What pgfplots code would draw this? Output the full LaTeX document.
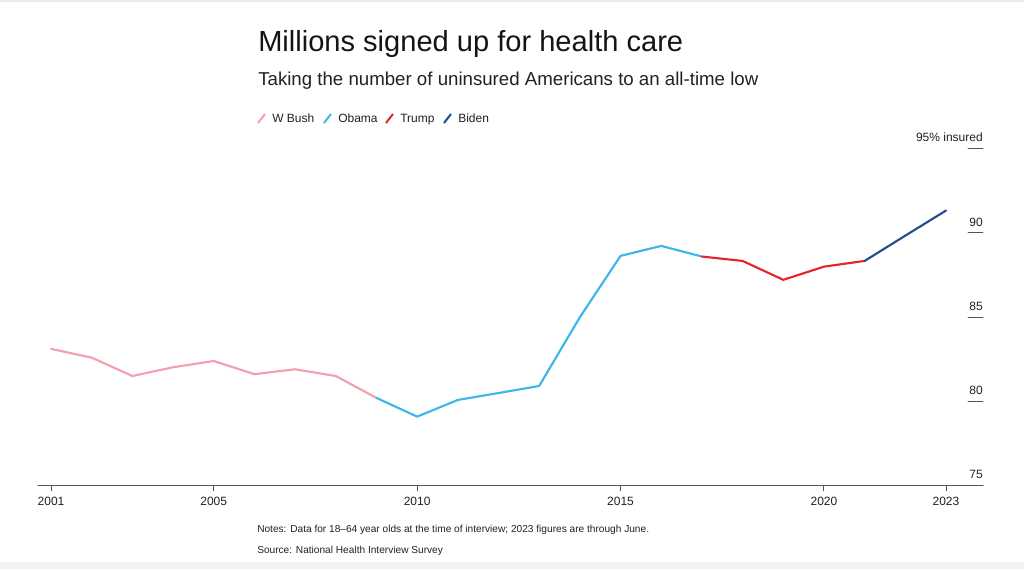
\documentclass[border=0pt]{standalone}
\usepackage{fontspec}
\setmainfont{Liberation Sans}
\usepackage{pgfplots}
\pgfplotsset{compat=1.18}
\definecolor{bush}{HTML}{F2A0AE}
\definecolor{obama}{HTML}{3DB7E9}
\definecolor{trump}{HTML}{E3262E}
\definecolor{biden}{HTML}{1F4E8A}
\definecolor{axgray}{HTML}{555555}
\definecolor{txt}{HTML}{222222}
\begin{document}
\begin{tikzpicture}
\fill[white] (0,0) rectangle (768pt,-426.75pt);
\fill[black!5] (0,-421.5pt) rectangle (768pt,-426.75pt);
\fill[black!8] (0,0) rectangle (768pt,-1.2pt);
\begin{scope}[x=0.75pt,y=-0.75pt]
\node[anchor=base west, inner sep=0pt, text=black!92, font=\fontsize{21.8pt}{24pt}\selectfont] at (258,51) {Millions signed up for health care};
\node[anchor=base west, inner sep=0pt, text=txt, font=\fontsize{14pt}{16pt}\selectfont] at (258,85) {Taking the number of uninsured Americans to an all-time low};
% legend
\draw[bush, line width=1.5pt] (258,123) -- (265,114);
\node[anchor=base west, inner sep=0pt, text=txt, font=\fontsize{9pt}{11pt}\selectfont] at (272,122) {W Bush};
\draw[obama, line width=1.5pt] (324,123) -- (331,114);
\node[anchor=base west, inner sep=0pt, text=txt, font=\fontsize{9pt}{11pt}\selectfont] at (338,122) {Obama};
\draw[trump, line width=1.5pt] (386,123) -- (393,114);
\node[anchor=base west, inner sep=0pt, text=txt, font=\fontsize{9pt}{11pt}\selectfont] at (400,122) {Trump};
\draw[biden, line width=1.5pt] (444,123) -- (451,114);
\node[anchor=base west, inner sep=0pt, text=txt, font=\fontsize{9pt}{11pt}\selectfont] at (458,122) {Biden};
% notes
\node[anchor=base west, inner sep=0pt, text=txt, font=\fontsize{7.6pt}{9pt}\selectfont] at (257,532) {Notes: Data for 18--64 year olds at the time of interview; 2023 figures are through June.};
\node[anchor=base west, inner sep=0pt, text=txt, font=\fontsize{7.6pt}{9pt}\selectfont] at (257,553) {Source: National Health Interview Survey};
\end{scope}
\begin{axis}[
  at={(28.5pt,-364.275pt)}, anchor=south west,
  scale only axis, width=708.75pt, height=252.75pt,
  xmin=2000.68, xmax=2023.91, ymin=75, ymax=95,
  clip=false,
  axis x line*=bottom, axis y line*=right,
  x axis line style={draw=axgray, line width=0.9pt, -},
  y axis line style={draw=none, -},
  xtick={2001,2005,2010,2015,2020,2023},
  xticklabels={2001,2005,2010,2015,2020,2023},
  ytick={75,80,85,90,95},
  yticklabels={75,80,85,90,95\% insured},
  minor ytick={80,85,90,95},
  major tick length=3.75pt,
  minor tick length=11.25pt,
  ytick align=inside,
  xtick align=outside,
  major x tick style={draw=axgray, line width=0.7pt},
  major y tick style={draw=none},
  minor y tick style={draw=axgray, line width=0.7pt},
  ticklabel style={font=\fontsize{9pt}{11pt}\selectfont, text=txt},
  xticklabel style={yshift=-1.2pt},
  yticklabel style={anchor=south east, inner sep=0pt, yshift=4.8pt},
  line join=round, line cap=round,
]
\addplot[bush, line width=1.6pt] coordinates {(2001,83.12)(2002,82.6)(2003,81.51)(2004,82.03)(2005,82.4)(2006,81.62)(2007,81.91)(2008,81.51)(2009,80.21)};
\addplot[obama, line width=1.6pt] coordinates {(2009,80.21)(2010,79.1)(2011,80.09)(2012,80.5)(2013,80.92)(2014,85.0)(2015,88.64)(2016,89.23)(2017,88.6)};
\addplot[trump, line width=1.6pt] coordinates {(2017,88.6)(2018,88.34)(2019,87.22)(2020,88.0)(2021,88.34)};
\addplot[biden, line width=1.6pt] coordinates {(2021,88.34)(2022,89.84)(2023,91.33)};
\end{axis}
\end{tikzpicture}
\end{document}
